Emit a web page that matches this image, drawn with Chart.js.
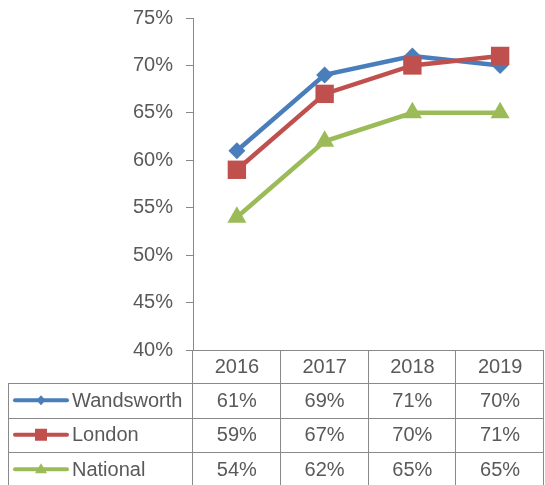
<!DOCTYPE html>
<html>
<head>
<meta charset="utf-8">
<script src="https://cdn.jsdelivr.net/npm/chart.js@4"></script>
<style>
  html, body { margin: 0; padding: 0; background: #fff; overflow: hidden; }
  #wrap { width: 545px; height: 485px; position: relative; }
  canvas { display: block; }
</style>
</head>
<body>
<div id="wrap"><canvas id="chart"></canvas></div>
<script>
// Data
const years = ['2016', '2017', '2018', '2019'];
const seriesNames = ['Wandsworth', 'London', 'National'];
const wandsworth = [61, 69, 71, 70];
const london = [59, 67, 70, 71];
const national = [54, 62, 65, 65];

const colors = ['#4a7ebb', '#c0504d', '#9bbb59'];
const styles = ['rectRot', 'rect', 'triangle'];
const radii = [8.5, 13, 11];
const FONT = "'Liberation Sans', Arial, sans-serif";
const TEXT = '#595959';
const GRID = '#898989';

// Draw small marker for the table legend keys
function drawKey(ctx, style, x, y, color) {
  ctx.save();
  ctx.fillStyle = color;
  ctx.beginPath();
  if (style === 'rectRot') {
    ctx.moveTo(x, y - 5); ctx.lineTo(x + 4.5, y); ctx.lineTo(x, y + 5); ctx.lineTo(x - 4.5, y);
  } else if (style === 'rect') {
    ctx.rect(x - 6, y - 6, 12, 12);
  } else {
    ctx.moveTo(x, y - 6); ctx.lineTo(x + 6, y + 4); ctx.lineTo(x - 6, y + 4);
  }
  ctx.closePath();
  ctx.fill();
  ctx.restore();
}

// Data table under the plot, laid out from the x scale
const dataTable = {
  id: 'dataTable',
  afterDraw(chart) {
    const ctx = chart.ctx;
    const area = chart.chartArea;
    const xs = chart.scales.x;
    const rows = [wandsworth, london, national];
    const top = area.bottom;
    const headH = 33;
    const rowH = 34.5;
    const tableLeft = 8;
    const bottom = top + headH + rowH * rows.length;
    const catW = (area.right - area.left) / years.length;

    ctx.save();
    ctx.strokeStyle = GRID;
    ctx.lineWidth = 1;
    ctx.beginPath();
    ctx.moveTo(area.left, top + 0.5); ctx.lineTo(area.right, top + 0.5);
    for (let r = 0; r <= rows.length; r++) {
      const y = Math.round(top + headH + rowH * r) + 0.5;
      ctx.moveTo(tableLeft, y); ctx.lineTo(area.right, y);
    }
    for (let i = 0; i <= years.length; i++) {
      const x = Math.round(area.left + catW * i) - 0.5;
      ctx.moveTo(x, top); ctx.lineTo(x, bottom);
    }
    ctx.moveTo(tableLeft + 0.5, top + headH); ctx.lineTo(tableLeft + 0.5, bottom);
    ctx.stroke();

    ctx.fillStyle = TEXT;
    ctx.font = '20px ' + FONT;
    ctx.textAlign = 'center';
    ctx.textBaseline = 'middle';
    years.forEach((yr, i) => {
      ctx.fillText(yr, xs.getPixelForValue(i), top + headH / 2 + 1);
    });
    rows.forEach((vals, r) => {
      const cy = top + headH + rowH * r + rowH / 2 + 1;
      vals.forEach((v, i) => {
        ctx.fillText(v + '%', xs.getPixelForValue(i), cy);
      });
      // legend key
      ctx.strokeStyle = colors[r];
      ctx.lineWidth = 4;
      ctx.lineCap = 'round';
      ctx.beginPath();
      ctx.moveTo(15, cy - 1); ctx.lineTo(67, cy - 1);
      ctx.stroke();
      drawKey(ctx, styles[r], 41, cy - 1, colors[r]);
      ctx.textAlign = 'left';
      ctx.fillStyle = TEXT;
      ctx.fillText(seriesNames[r], 72, cy);
      ctx.textAlign = 'center';
    });
    ctx.restore();
  }
};

const datasets = [wandsworth, london, national].map((vals, i) => ({
  label: seriesNames[i],
  data: vals,
  borderColor: colors[i],
  backgroundColor: colors[i],
  borderWidth: 4.5,
  pointStyle: styles[i],
  pointRadius: radii[i],
  pointBorderWidth: 0,
  pointHoverRadius: radii[i],
  order: 3 - i,
  tension: 0
}));

new Chart(document.getElementById('chart'), {
  type: 'line',
  data: { labels: years, datasets },
  options: {
    responsive: true,
    maintainAspectRatio: false,
    animation: false,
    layout: { autoPadding: false, padding: { top: 18, right: 1, bottom: 135, left: 0 } },
    plugins: {
      legend: { display: false },
      tooltip: { enabled: false }
    },
    scales: {
      x: { display: false, offset: true },
      y: {
        min: 40,
        max: 75,
        afterFit: s => { s.width = 193; s.paddingTop = 0; s.paddingBottom = 0; },
        border: { color: GRID, width: 1 },
        grid: { drawOnChartArea: false, drawTicks: true, tickLength: 7, color: GRID },
        ticks: {
          stepSize: 5,
          padding: 13,
          color: TEXT,
          font: { family: FONT, size: 20 },
          callback: v => v + '%'
        }
      }
    }
  },
  plugins: [dataTable]
});
</script>
</body>
</html>
